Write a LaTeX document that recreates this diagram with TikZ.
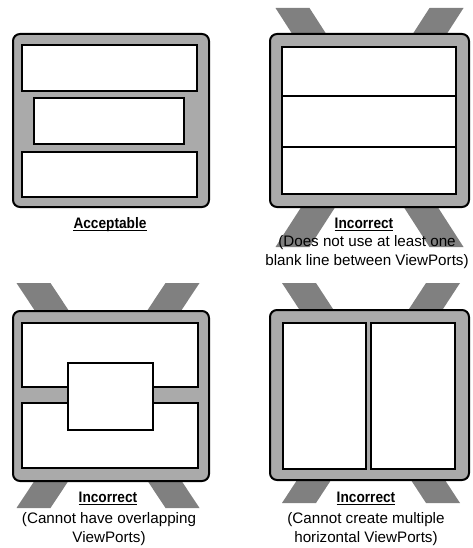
\documentclass[tikz,border=0pt]{standalone}
\usepackage{fontspec}
\setmainfont{Liberation Sans}
\newfontfamily\headfont{Liberation Sans}[FakeStretch=0.9]
\usetikzlibrary{positioning}
\definecolor{framegray}{RGB}{170,170,170}
\definecolor{bargray}{RGB}{128,128,128}
\tikzset{
    monitor/.style={rectangle, draw=black, fill=framegray, line width=2pt, rounded corners=7pt, inner sep=0pt},
    port/.style={rectangle, draw=black, fill=white, line width=2pt, inner sep=0pt},
    bar/.style={fill=bargray},
    divider/.style={draw=black, line width=1.6pt},
    verdict/.style={font=\headfont\bfseries\fontsize{15.2}{19}\selectfont, inner sep=0pt, anchor=base},
    remark/.style={font=\fontsize{15.2}{19}\selectfont, inner sep=0pt, align=center, anchor=base},
    uline/.style={line width=1.3pt}
}
\begin{document}
\begin{tikzpicture}[x=1pt, y=-1pt]
    \useasboundingbox (0,0) rectangle (473,548);

    % crossing bars behind the incorrect screens
    \foreach \cx/\ty/\by/\d in {369.5/8/247/77, 108/283/508/74.5, 371/283/503/72} {
        \fill[bar] ({\cx-\d-17},\ty) -- ({\cx-\d+17},\ty) -- ({\cx+\d+17},\by) -- ({\cx+\d-17},\by) -- cycle;
        \fill[bar] ({\cx+\d-17},\ty) -- ({\cx+\d+17},\ty) -- ({\cx-\d+17},\by) -- ({\cx-\d-17},\by) -- cycle;
    }

    % acceptable
    \node (scr_ok) [monitor, minimum width=196pt, minimum height=173pt] at (111,120.5) {};
    \node (ok_top) [port, minimum width=175pt, minimum height=46pt] at (109.5,68) {};
    \node (ok_mid) [port, minimum width=150pt, minimum height=46pt] at (109,121) {};
    \node (ok_bot) [port, minimum width=175pt, minimum height=45pt] at (109.5,174.5) {};
    \node (ok_txt) [verdict] at (110,228.5) {Acceptable};
    \draw [uline] ([yshift=-2pt]ok_txt.base west) -- ([yshift=-2pt]ok_txt.base east);

    % no blank line
    \node (scr_blank) [monitor, minimum width=199pt, minimum height=173pt] at (369.5,120.5) {};
    \node (blank_port) [port, minimum width=174pt, minimum height=147pt] at (369,120.5) {};
    \coordinate (cut_a) at (0,96);
    \coordinate (cut_b) at (0,147);
    \draw [divider] (blank_port.west |- cut_a) -- (blank_port.east |- cut_a);
    \draw [divider] (blank_port.west |- cut_b) -- (blank_port.east |- cut_b);
    \node (blank_txt) [verdict] at (364,228.5) {Incorrect};
    \draw [uline] ([yshift=-2pt]blank_txt.base west) -- ([yshift=-2pt]blank_txt.base east);
    \node (blank_why) [remark] at (367,265) {(Does not use at least one\\blank line between ViewPorts)};

    % overlapping
    \node (scr_over) [monitor, minimum width=196pt, minimum height=170pt] at (111,396) {};
    \node (over_top) [port, minimum width=176pt, minimum height=64pt] at (110,355) {};
    \node (over_bot) [port, minimum width=176pt, minimum height=65pt] at (110,435.5) {};
    \node (over_mid) [port, minimum width=85pt, minimum height=67pt] at (110.5,396.5) {};
    \node (over_txt) [verdict] at (108,502.5) {Incorrect};
    \draw [uline] ([yshift=-2pt]over_txt.base west) -- ([yshift=-2pt]over_txt.base east);
    \node (over_why) [remark] at (109,542) {(Cannot have overlapping\\ViewPorts)};

    % side by side
    \node (scr_side) [monitor, minimum width=199pt, minimum height=170pt] at (369.5,395) {};
    \node (side_left) [port, minimum width=83pt, minimum height=146pt] at (324.5,396) {};
    \node (side_right) [port, minimum width=84pt, minimum height=146pt] at (413,396) {};
    \node (side_txt) [verdict] at (366,502.5) {Incorrect};
    \draw [uline] ([yshift=-2pt]side_txt.base west) -- ([yshift=-2pt]side_txt.base east);
    \node (side_why) [remark] at (366,542) {(Cannot create multiple\\horizontal ViewPorts)};
\end{tikzpicture}
\end{document}
